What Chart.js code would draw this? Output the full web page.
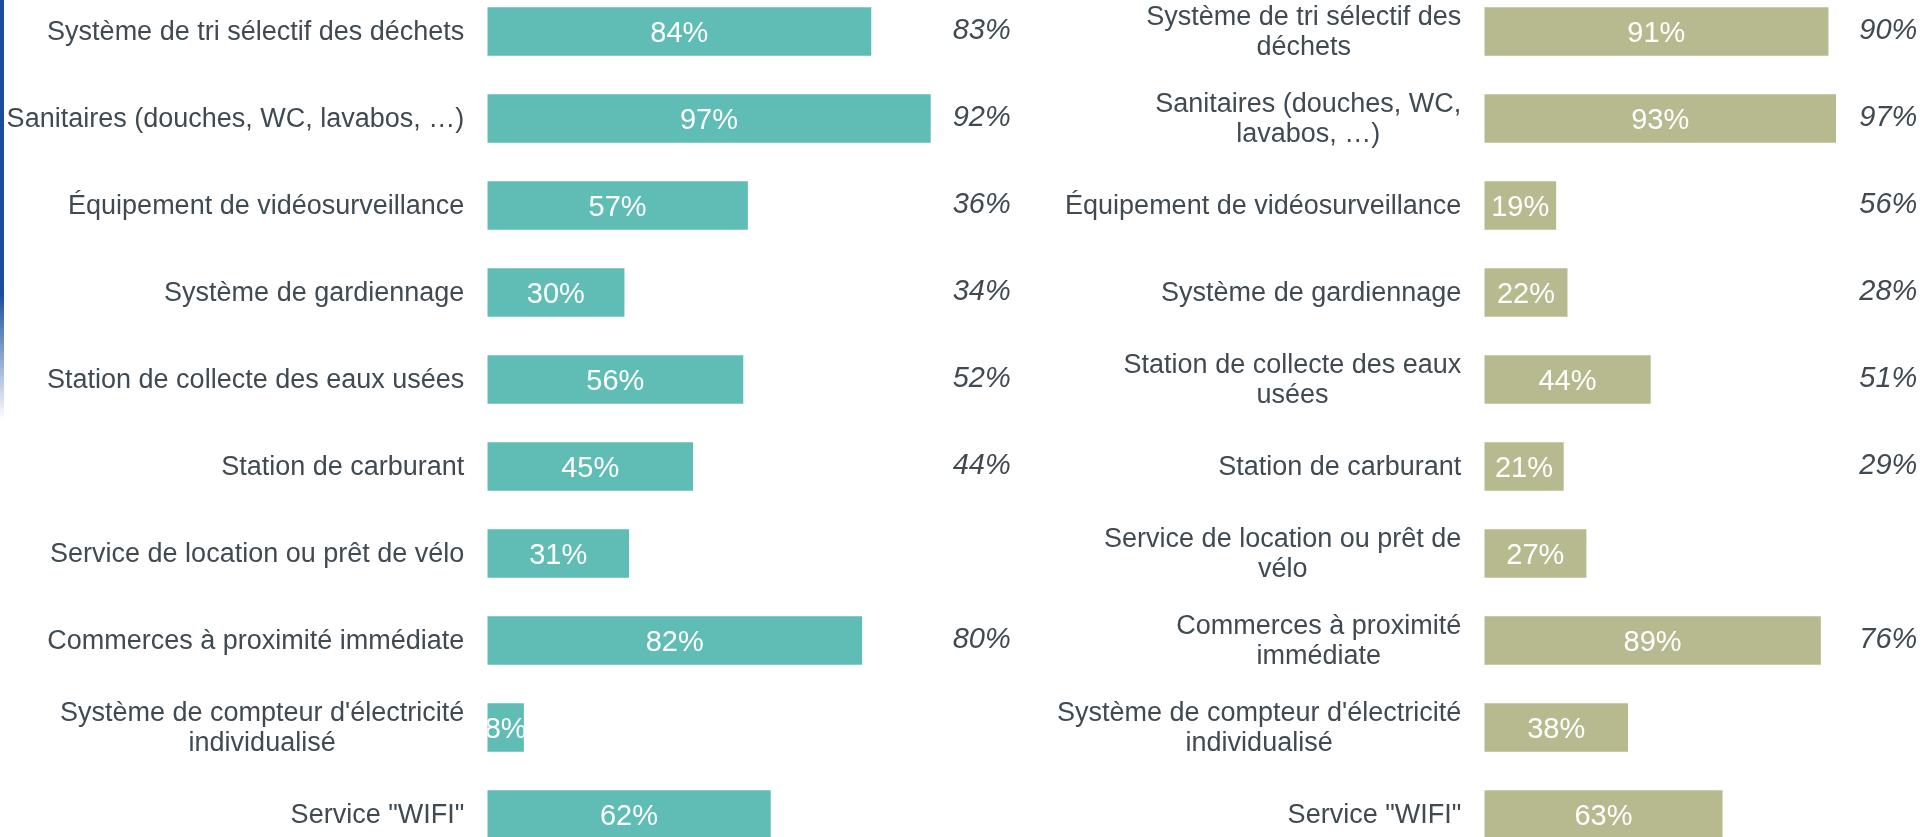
<!DOCTYPE html>
<html>
<head>
<meta charset="utf-8">
<script src="https://cdn.jsdelivr.net/npm/chart.js@4.4.1/dist/chart.umd.min.js"></script>
<style>
  html, body { margin: 0; padding: 0; background: #ffffff; overflow: hidden; width: 1926px; height: 837px; }
  .wrap { position: absolute; top: -12px; height: 870px; }
  #leftWrap { left: 0; width: 1030px; }
  #rightWrap { left: 1020px; width: 906px; }
  #stripe { position: absolute; left: 0; top: 0; width: 4px; height: 420px;
            background: linear-gradient(to bottom, #1a4d9e 0%, #1a4d9e 70%, rgba(26,77,158,0) 100%); }
</style>
</head>
<body>
<div id="stripe"></div>
<div class="wrap" id="leftWrap"><canvas id="left" width="1030" height="870"></canvas></div>
<div class="wrap" id="rightWrap"><canvas id="right" width="906" height="870"></canvas></div>
<script>
// ---------- DATA ----------
const categoriesLeft = [
  ["Système de tri sélectif des déchets"],
  ["Sanitaires (douches, WC, lavabos, …)"],
  ["Équipement de vidéosurveillance"],
  ["Système de gardiennage"],
  ["Station de collecte des eaux usées"],
  ["Station de carburant"],
  ["Service de location ou prêt de vélo"],
  ["Commerces à proximité immédiate"],
  ["Système de compteur d'électricité", "individualisé"],
  ["Service \"WIFI\""]
];
const categoriesRight = [
  ["Système de tri sélectif des", "déchets"],
  ["Sanitaires (douches, WC,", "lavabos, …)"],
  ["Équipement de vidéosurveillance"],
  ["Système de gardiennage"],
  ["Station de collecte des eaux", "usées"],
  ["Station de carburant"],
  ["Service de location ou prêt de", "vélo"],
  ["Commerces à proximité", "immédiate"],
  ["Système de compteur d'électricité", "individualisé"],
  ["Service \"WIFI\""]
];
const valuesLeft    = [84, 97, 57, 30, 56, 45, 31, 82, 8, 62];
const previousLeft  = [83, 92, 36, 34, 52, 44, null, 80, null, null];
const valuesRight   = [91, 93, 19, 22, 44, 21, 27, 89, 38, 63];
const previousRight = [90, 97, 56, 28, 51, 29, null, 76, null, null];

// ---------- STYLE ----------
const FONT_FAMILY = '"Liberation Sans", Arial, sans-serif';
const TEXT_COLOR = '#3f4a52';
const TEAL = '#5fbdb5';
const KHAKI = '#b7ba8f';

const labelsPlugin = {
  id: 'customLabels',
  afterDatasetsDraw(chart) {
    const ctx = chart.ctx;
    const area = chart.chartArea;
    const yScale = chart.scales.y;
    const opts = chart.options.plugins.customLabels;
    const lines = chart.data.labels;
    const lineH = 30.7;

    // category labels (block right-aligned, lines centred within block)
    ctx.save();
    ctx.font = '27px ' + FONT_FAMILY;
    ctx.fillStyle = TEXT_COLOR;
    ctx.textBaseline = 'middle';
    ctx.textAlign = 'center';
    lines.forEach((lbl, i) => {
      const arr = Array.isArray(lbl) ? lbl : [lbl];
      const y = yScale.getPixelForTick(i);
      const w = Math.max(...arr.map(t => ctx.measureText(t).width));
      const xc = area.left - opts.labelPad - w / 2;
      arr.forEach((t, j) => {
        ctx.fillText(t, xc, y + (j - (arr.length - 1) / 2) * lineH + 1);
      });
    });
    ctx.restore();

    // values inside bars
    const meta = chart.getDatasetMeta(0);
    const data = chart.data.datasets[0].data;
    meta.data.forEach((el, i) => {
      const left = Math.min(el.base, el.x), right = Math.max(el.base, el.x);
      const top = el.y - el.height / 2;
      ctx.save();
      ctx.beginPath();
      ctx.rect(left, top, right - left, el.height);
      ctx.clip();
      ctx.font = '29px ' + FONT_FAMILY;
      ctx.fillStyle = '#ffffff';
      ctx.textAlign = 'center';
      ctx.textBaseline = 'middle';
      ctx.fillText(data[i] + '%', (left + right) / 2, el.y + 2);
      ctx.restore();
    });

    // previous values, italic, right-aligned at chart right edge
    const prev = opts.previous;
    ctx.save();
    ctx.font = 'italic 29px ' + FONT_FAMILY;
    ctx.fillStyle = TEXT_COLOR;
    ctx.textAlign = 'right';
    ctx.textBaseline = 'middle';
    prev.forEach((v, i) => {
      if (v === null) return;
      ctx.fillText(v + '%', area.right, yScale.getPixelForTick(i) - 1);
    });
    ctx.restore();
  }
};

function makeChart(id, labels, values, previous, color, yWidth, padRight, xMax) {
  return new Chart(document.getElementById(id), {
    type: 'bar',
    data: {
      labels: labels,
      datasets: [{
        data: values,
        backgroundColor: color,
        borderWidth: 0,
        barPercentage: 0.56,
        categoryPercentage: 1.0
      }]
    },
    options: {
      indexAxis: 'y',
      responsive: false,
      animation: false,
      devicePixelRatio: 1,
      layout: { padding: { left: 0, right: padRight, top: 0, bottom: 0 } },
      plugins: {
        legend: { display: false },
        tooltip: { enabled: false },
        customLabels: { previous: previous, labelPad: 23 }
      },
      scales: {
        x: {
          display: false,
          min: 0,
          max: xMax,
          grid: { display: false }
        },
        y: {
          offset: true,
          grid: { display: false, drawTicks: false },
          border: { display: false },
          ticks: { display: false },
          afterFit: (s) => { s.width = yWidth; }
        }
      }
    },
    plugins: [labelsPlugin]
  });
}

makeChart('left', categoriesLeft, valuesLeft, previousLeft, TEAL, 487.3, 19.3, 114.5);
makeChart('right', categoriesRight, valuesRight, previousRight, KHAKI, 464.3, 8.7, 114.5);
</script>
</body>
</html>
